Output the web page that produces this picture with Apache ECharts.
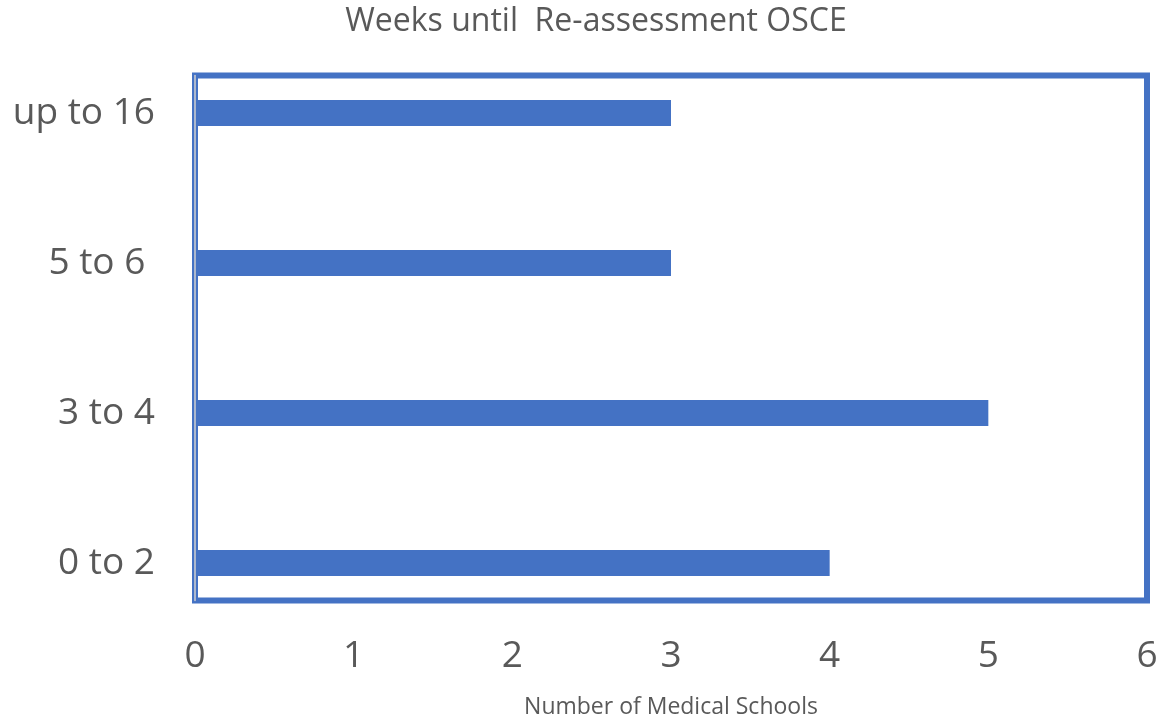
<!DOCTYPE html>
<html><head><meta charset="utf-8">
<script src="https://cdn.jsdelivr.net/npm/echarts@6/dist/echarts.min.js"></script>
<style>html,body{margin:0;padding:0;background:#fff;overflow:hidden}#c{width:1165px;height:718px}</style>
</head><body><div id="c"></div>
<script>
const categories = ['0 to 2', '3 to 4', '5 to 6 ', 'up to 16'];
const schoolCounts = [4, 5, 3, 3];
const xTicks = [0, 1, 2, 3, 4, 5, 6];
const titleText = 'Weeks until  Re-assessment OSCE';
const xAxisName = 'Number of Medical Schools';

const FONT = '"Open Sans", sans-serif';
const chart = echarts.init(document.getElementById('c'));
chart.setOption({
  animation: false,
  title: {
    text: titleText, left: 591, top: 1, textAlign: 'center',
    textStyle: { fontFamily: FONT, fontSize: 32, fontWeight: 'normal', color: '#595959' }
  },
  grid: [
    { left: 195, right: 18, top: 38, bottom: 80, containLabel: false, outerBoundsMode: 'none' },
    { left: 195, right: 18, top: 75.5, bottom: 117.5, show: true, borderColor: '#4472C4', borderWidth: 6, backgroundColor: 'transparent', z: 0, outerBoundsMode: 'none' }
  ],
  xAxis: [
    {
      gridIndex: 0, type: 'value', min: xTicks[0], max: xTicks[xTicks.length - 1], interval: 1,
      name: xAxisName, nameLocation: 'middle', nameGap: 58,
      nameTextStyle: { fontFamily: FONT, fontSize: 23, color: '#595959' },
      axisLine: { show: false }, axisTick: { show: false }, splitLine: { show: false },
      axisLabel: { fontFamily: FONT, fontSize: 37, color: '#595959', margin: 0 }
    },
    { gridIndex: 1, type: 'value', show: false }
  ],
  yAxis: [
    {
      gridIndex: 0, type: 'category', data: categories,
      axisLine: { show: false }, axisTick: { show: false }, splitLine: { show: false },
      axisLabel: { fontFamily: FONT, fontSize: 37, color: '#595959', margin: 40 }
    },
    {
      gridIndex: 1, type: 'value', position: 'left',
      axisLine: { show: true, onZero: false, lineStyle: { color: '#D0D0D0', width: 1.5 } },
      axisTick: { show: false }, axisLabel: { show: false }, splitLine: { show: false }, z: 5
    }
  ],
  series: [{
    type: 'bar', xAxisIndex: 0, yAxisIndex: 0, data: schoolCounts,
    barWidth: 26, itemStyle: { color: '#4472C4' }, z: 3
  }]
});
</script></body></html>
